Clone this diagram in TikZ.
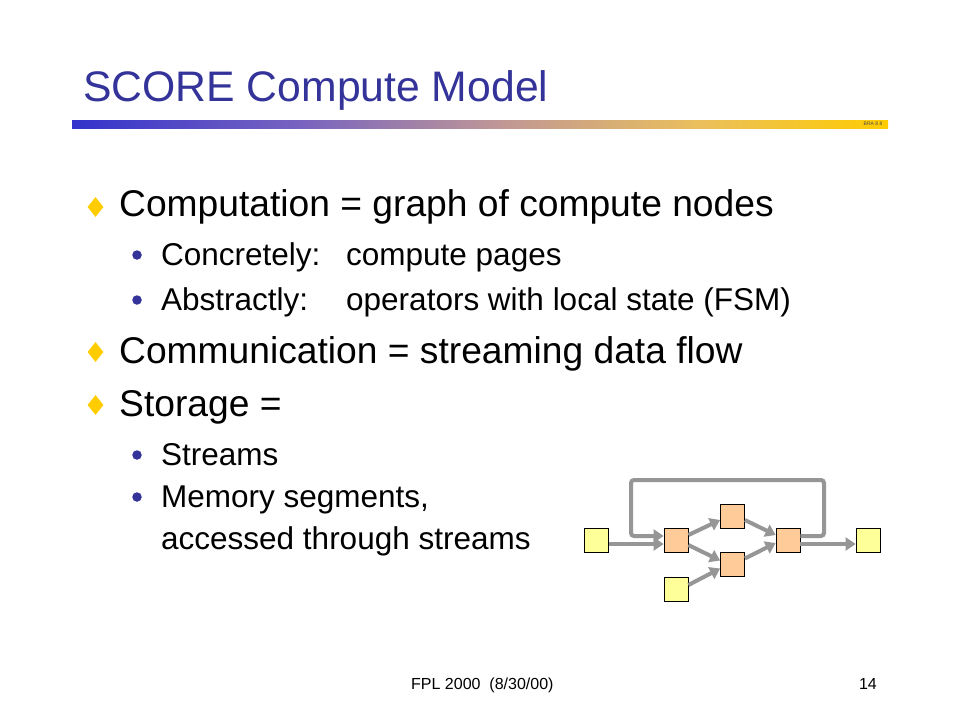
\documentclass[tikz,border=0pt]{standalone}
\usepackage{fontspec}
\setmainfont{Liberation Sans}
\usetikzlibrary{arrows.meta,shapes.geometric}
\definecolor{titleblue}{RGB}{51,51,153}
\definecolor{dotblue}{RGB}{51,51,153}
\definecolor{gold}{RGB}{255,204,0}
\definecolor{boxyellow}{RGB}{255,255,153}
\definecolor{boxorange}{RGB}{255,204,153}
\definecolor{arrowgray}{RGB}{150,150,150}
\pgfdeclarehorizontalshading{barshade}{100bp}{%
  rgb(0bp)=(0.2,0.2,0.8);
  rgb(25bp)=(0.2,0.2,0.8);
  rgb(39bp)=(0.47,0.39,0.75);
  rgb(51bp)=(0.75,0.59,0.59);
  rgb(63.5bp)=(0.92,0.75,0.36);
  rgb(75bp)=(1,0.8,0);
  rgb(100bp)=(1,0.8,0)}
\tikzset{
  lone/.style={anchor=base west, inner sep=0pt, font=\fontsize{37.2}{40}\selectfont},
  ltwo/.style={anchor=base west, inner sep=0pt, font=\fontsize{31.5}{34}\selectfont},
  diam/.style={diamond, fill=gold, inner sep=0pt, minimum width=16pt, minimum height=20pt},
  dot/.style={circle, fill=dotblue, inner sep=0pt, minimum size=9.5pt},
  ybox/.style={draw=black, line width=0.8pt, fill=boxyellow, minimum size=24pt, inner sep=0pt},
  obox/.style={draw=black, line width=0.8pt, fill=boxorange, minimum size=24pt, inner sep=0pt},
  flow/.style={draw=arrowgray, line width=4pt, -{Triangle[length=10pt,width=13pt]}},
}
\begin{document}
\begin{tikzpicture}[x=1pt,y=-1pt]
\useasboundingbox (0,0) rectangle (960,720);
\fill[white] (0,0) rectangle (960,720);
% title
\node[anchor=base west, inner sep=0pt, text=titleblue, font=\fontsize{42.7}{48}\selectfont] (title) at (83,101) {SCORE Compute Model};
\shade[shading=barshade] (72,120) rectangle (888,128);
\node[inner sep=0pt, font=\fontsize{5}{6}\selectfont, text=black!70] (bra) at (873,124) {BRA 8 8};
% bullets
\node[diam] (d1) at (95.5,207) {};
\node[lone] (t1) at (119,216) {Computation = graph of compute nodes};
\node[dot] (b1) at (137,255) {};
\node[ltwo] (t1a) at (161,265) {Concretely:};
\node[ltwo] (t1b) at (346,265) {compute pages};
\node[dot] (b2) at (137,300) {};
\node[ltwo] (t2a) at (161,310) {Abstractly:};
\node[ltwo] (t2b) at (346,310) {operators with local state (FSM)};
\node[diam] (d2) at (95.5,352) {};
\node[lone] (t3) at (119,363) {Communication = streaming data flow};
\node[diam] (d3) at (95.5,405) {};
\node[lone] (t4) at (119,416) {Storage =};
\node[dot] (b3) at (137,455) {};
\node[ltwo] (t5) at (161,465) {Streams};
\node[dot] (b4) at (137,497) {};
\node[ltwo] (t6) at (161,507) {Memory segments,};
\node[ltwo] (t7) at (161,549) {accessed through streams};
% footer
\node[anchor=base west, inner sep=0pt, font=\fontsize{16}{18}\selectfont] (foot) at (411,689) {FPL 2000\ \ (8/30/00)};
\node[anchor=base east, inner sep=0pt, font=\fontsize{16}{18}\selectfont] (page) at (877,689) {14};
% diagram
\node[ybox] (yin) at (596.5,540) {};
\node[obox] (na) at (676,540) {};
\node[obox] (nb) at (732.5,516) {};
\node[obox] (nc) at (732.5,564.5) {};
\node[obox] (nd) at (788,540) {};
\node[ybox] (yout) at (868,540) {};
\node[ybox] (ybot) at (676,589) {};
\coordinate (l1) at (824,536);
\coordinate (l2) at (824,480);
\coordinate (l3) at (631,480);
\coordinate (l4) at (631,536);
\draw[flow] ([yshift=-4pt]yin.east) -- ([yshift=-4pt]na.west);
\draw[flow, rounded corners=3pt] ([yshift=4pt]nd.east) -- (l1) -- (l2) -- (l3) -- (l4) -- ([yshift=4pt]na.west);
\draw[flow] ([yshift=5pt]na.east) -- ([yshift=-4pt]nb.west);
\draw[flow] ([yshift=-5pt]na.east) -- ([yshift=4pt]nc.west);
\draw[flow] ([yshift=-4pt]nb.east) -- ([yshift=5pt]nd.west);
\draw[flow] ([yshift=6pt]nc.east) -- ([yshift=-3pt]nd.west);
\draw[flow] ([yshift=4pt]ybot.east) -- ([yshift=-4pt]nc.west);
\draw[flow] ([yshift=-4pt]nd.east) -- ([yshift=-4pt]yout.west);
\end{tikzpicture}
\end{document}
